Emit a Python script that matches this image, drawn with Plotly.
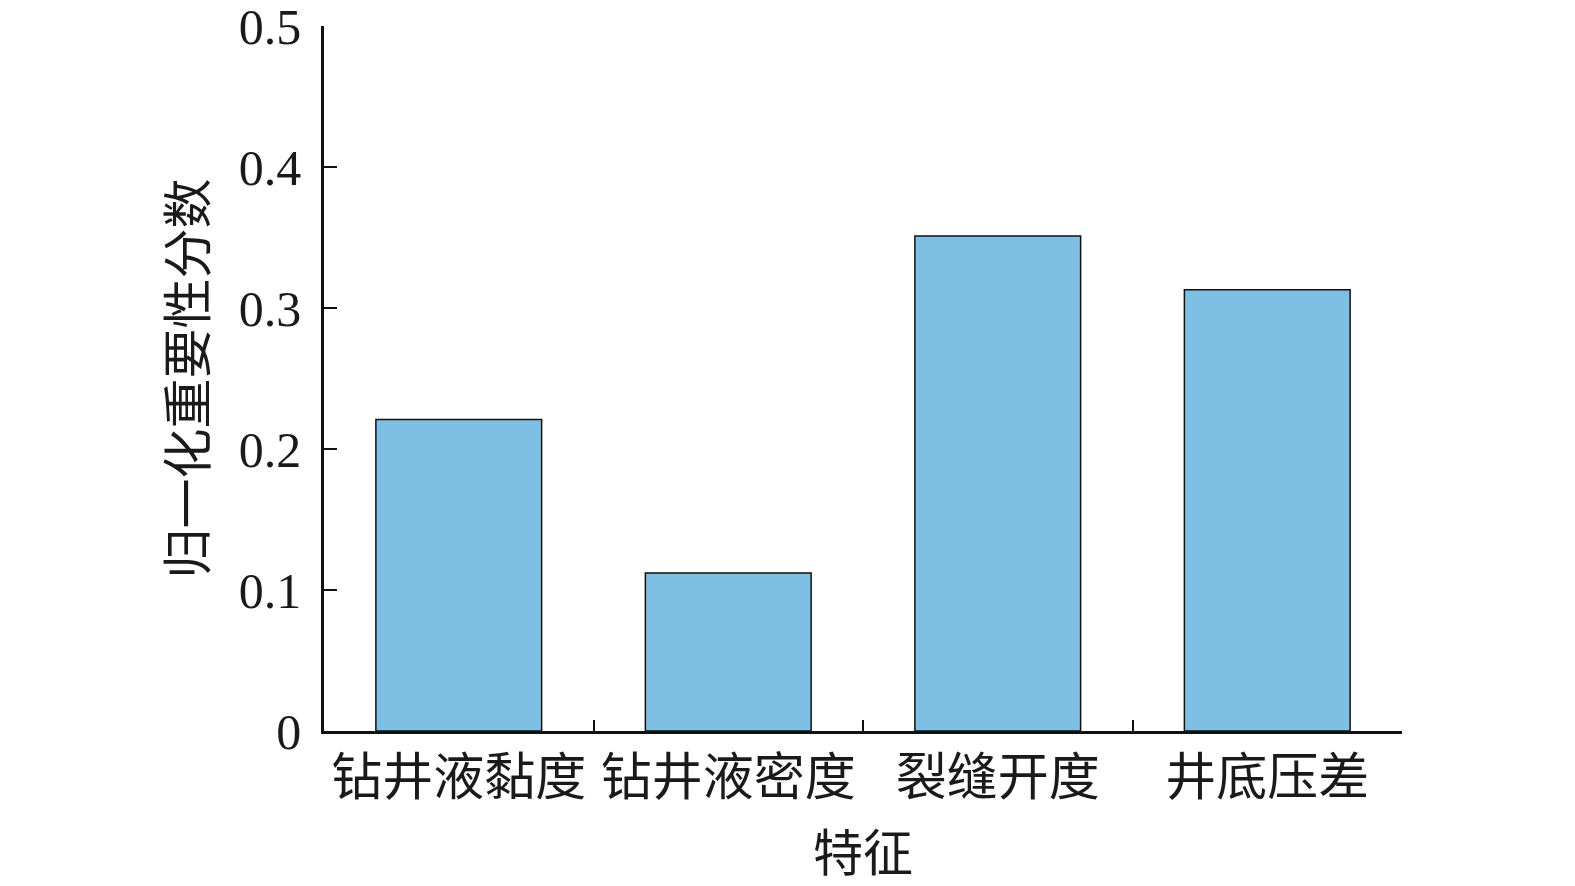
import plotly.graph_objects as go

categories = ["钻井液黏度", "钻井液密度", "裂缝开度", "井底压差"]
values = [0.221, 0.112, 0.351, 0.313]
y_ticks = [0, 0.1, 0.2, 0.3, 0.4, 0.5]
y_tick_labels = ["0", "0.1", "0.2", "0.3", "0.4", "0.5"]

font_family = "Liberation Serif, Times New Roman, Noto Sans CJK SC, serif"

fig = go.Figure(
    go.Bar(
        x=categories,
        y=values,
        marker=dict(color="#80BFE4", line=dict(color="#111111", width=1.5)),
        width=0.615,
    )
)

# the page body has a small margin, so margins are compensated
fig.update_layout(
    width=1575,
    height=886,
    margin=dict(l=316, r=181, t=18, b=163),
    paper_bgcolor="white",
    plot_bgcolor="white",
    showlegend=False,
    font=dict(family=font_family, size=50, color="#1a1a1a"),
)

fig.update_xaxes(
    automargin=False,
    showline=True,
    linecolor="#111111",
    linewidth=2.5,
    ticks="inside",
    ticklen=11,
    tickwidth=2,
    tickcolor="#111111",
    tickson="boundaries",
    showgrid=False,
    range=[-0.5, 3.5],
    tickfont=dict(family=font_family, size=51),
    title=dict(text="特征", font=dict(family=font_family, size=50), standoff=32),
)

fig.update_yaxes(
    automargin=False,
    showline=True,
    linecolor="#111111",
    linewidth=2.5,
    ticks="inside",
    ticklen=13,
    tickwidth=2,
    tickcolor="#111111",
    showgrid=False,
    zeroline=False,
    range=[0, 0.5],
    tickvals=y_ticks,
    ticktext=y_tick_labels,
    ticklabelstandoff=10,
    ticklabeloverflow="allow",
    tickfont=dict(family=font_family, size=50),
    title=dict(text="归一化重要性分数", font=dict(family=font_family, size=50), standoff=17),
)

fig.write_html("out.html")
